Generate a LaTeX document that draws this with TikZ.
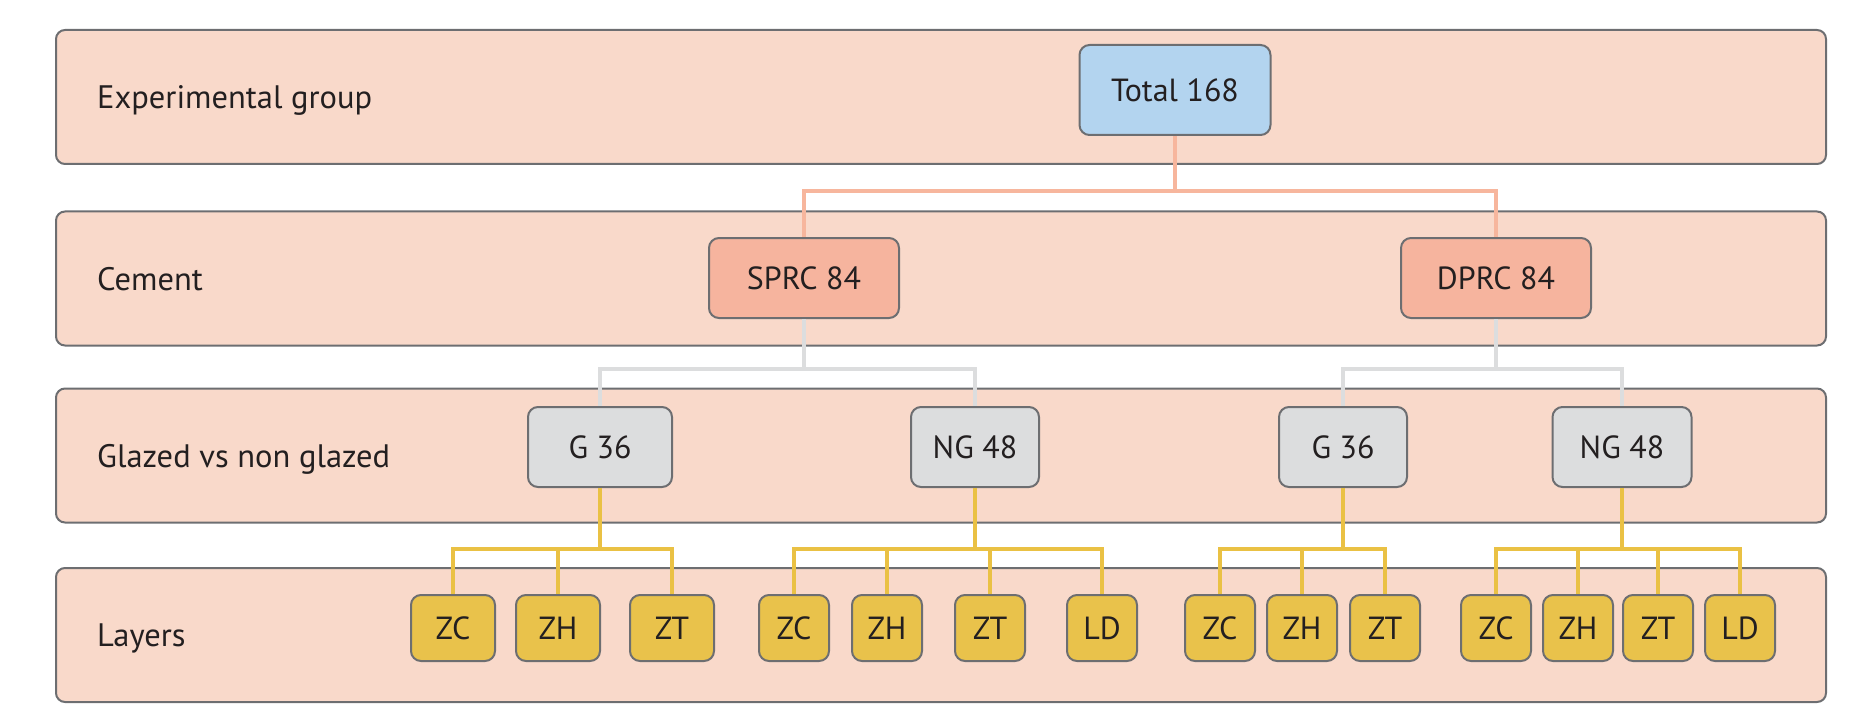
\documentclass[tikz,border=0pt]{standalone}
\usepackage{fontspec}
\setmainfont{PT Sans}
\definecolor{bandfill}{HTML}{F9D9CA}
\definecolor{edge}{HTML}{6D6E71}
\definecolor{bluefill}{HTML}{B3D4EF}
\definecolor{salmon}{HTML}{F6B49E}
\definecolor{grayfill}{HTML}{DCDDDE}
\definecolor{gold}{HTML}{E9C24B}
\definecolor{txt}{HTML}{231F20}
\definecolor{orangeline}{HTML}{F7B69D}
\definecolor{grayline}{HTML}{DCDDDE}
\definecolor{goldline}{HTML}{EAC144}
\begin{document}
\begin{tikzpicture}[x=1pt,y=-1pt,
  band/.style={draw=edge, fill=bandfill, line width=2pt, rounded corners=9pt,
    minimum width=1770pt, minimum height=134pt, inner sep=0pt},
  lbl/.style={anchor=base west, inner sep=0pt, text=txt, font=\fontsize{32.5}{32.5}\selectfont},
  box/.style={draw=edge, line width=2pt, rounded corners=10pt, inner sep=0pt,
    text=txt, font=\fontsize{32}{32}\selectfont},
  totbox/.style={box, fill=bluefill, minimum width=191pt, minimum height=90pt},
  cembox/.style={box, fill=salmon, minimum width=190pt, minimum height=80pt},
  glzbox/.style={box, fill=grayfill, minimum height=80pt},
  laybox/.style={box, fill=gold, minimum height=66pt, minimum width=70pt},
  oline/.style={draw=orangeline, line width=3.5pt},
  gline/.style={draw=grayline, line width=3.5pt},
  yline/.style={draw=goldline, line width=3.5pt}]
\useasboundingbox (0,0) rectangle (1865,722);

% bands
\node[band] (b1) at (941,97) {};
\node[band] (b2) at (941,278.5) {};
\node[band] (b3) at (941,455.5) {};
\node[band] (b4) at (941,635) {};

% labels
\node[lbl] (l1) at (97,108.5) {Experimental group};
\node[lbl] (l2) at (97,290) {Cement};
\node[lbl] (l3) at (97,467) {Glazed vs non glazed};
\node[lbl] (l4) at (97,646.5) {Layers};

% boxes
\node[totbox] (total) at (1175,90) {Total 168};
\node[cembox] (sprc) at (804,278) {SPRC 84};
\node[cembox] (dprc) at (1496,278) {DPRC 84};
\node[glzbox, minimum width=144pt] (g1) at (600,447) {G 36};
\node[glzbox, minimum width=128pt] (ng1) at (975,447) {NG 48};
\node[glzbox, minimum width=128pt] (g2) at (1343,447) {G 36};
\node[glzbox, minimum width=139pt] (ng2) at (1622,447) {NG 48};

\node[laybox, minimum width=84pt] (a1) at (453,628) {ZC};
\node[laybox, minimum width=84pt] (a2) at (558,628) {ZH};
\node[laybox, minimum width=84pt] (a3) at (672,628) {ZT};
\node[laybox] (c1) at (794,628) {ZC};
\node[laybox] (c2) at (887,628) {ZH};
\node[laybox] (c3) at (990,628) {ZT};
\node[laybox] (c4) at (1102,628) {LD};
\node[laybox] (d1) at (1220,628) {ZC};
\node[laybox] (d2) at (1302,628) {ZH};
\node[laybox] (d3) at (1385,628) {ZT};
\node[laybox] (e1) at (1496,628) {ZC};
\node[laybox] (e2) at (1578,628) {ZH};
\node[laybox] (e3) at (1658,628) {ZT};
\node[laybox] (e4) at (1740,628) {LD};

% connectors
\coordinate (jt) at (1175,191);
\draw[oline] (total.south) -- (jt) -| (sprc.north);
\draw[oline] (jt) -| (dprc.north);

\coordinate (js1) at (804,369);
\draw[gline] (sprc.south) -- (js1) -| (g1.north);
\draw[gline] (js1) -| (ng1.north);
\coordinate (js2) at (1496,369);
\draw[gline] (dprc.south) -- (js2) -| (g2.north);
\draw[gline] (js2) -| (ng2.north);

\coordinate (jy1) at (600,549);
\draw[yline] (g1.south) -- (jy1);
\foreach \n in {a1,a2,a3} \draw[yline] (jy1) -| (\n.north);
\coordinate (jy2) at (975,549);
\draw[yline] (ng1.south) -- (jy2);
\foreach \n in {c1,c2,c3,c4} \draw[yline] (jy2) -| (\n.north);
\coordinate (jy3) at (1343,549);
\draw[yline] (g2.south) -- (jy3);
\foreach \n in {d1,d2,d3} \draw[yline] (jy3) -| (\n.north);
\coordinate (jy4) at (1622,549);
\draw[yline] (ng2.south) -- (jy4);
\foreach \n in {e1,e2,e3,e4} \draw[yline] (jy4) -| (\n.north);
\end{tikzpicture}
\end{document}
